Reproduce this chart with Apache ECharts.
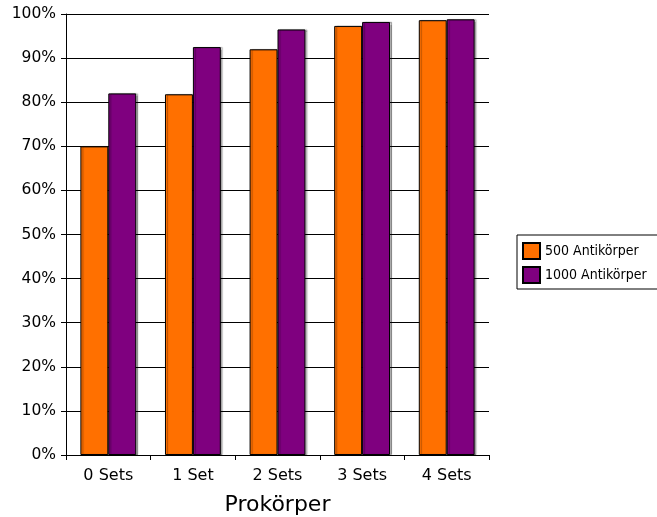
<!DOCTYPE html>
<html>
<head>
<meta charset="utf-8">
<script src="https://cdn.jsdelivr.net/npm/echarts@6/dist/echarts.min.js"></script>
<style>
html, body { margin: 0; padding: 0; background: #fff; }
#chart { width: 657px; height: 517px; }
</style>
</head>
<body>
<div id="chart"></div>
<script>
// Kategorien und Werte (in Prozent)
var categories = ['0 Sets', '1 Set', '2 Sets', '3 Sets', '4 Sets'];
var seriesNames = ['500 Antikörper', '1000 Antikörper'];
var values500 = [70, 81.8, 92.0, 97.3, 98.6];
var values1000 = [82, 92.5, 96.5, 98.2, 98.8];
var colors = ['#ff7000', '#7f007f'];

var chart = echarts.init(document.getElementById('chart'));
var fontFamily = 'DejaVu Sans';

function makeSeries(name, data, color) {
    return {
        name: name,
        type: 'bar',
        data: data,
        barGap: '0%',
        barCategoryGap: '34%',
        itemStyle: {
            color: color,
            borderColor: '#000',
            borderWidth: 1,
            shadowColor: 'rgba(0,0,0,0.3)',
            shadowOffsetX: 2,
            shadowOffsetY: 0,
            shadowBlur: 1
        },
        emphasis: { disabled: true }
    };
}

var option = {
    animation: false,
    textStyle: { fontFamily: fontFamily },
    grid: { left: 66, right: 168, top: 14, bottom: 62, containLabel: false, outerBoundsMode: 'none' },
    legend: {
        orient: 'vertical',
        left: 517,
        top: 235,
        data: seriesNames,
        icon: 'rect',
        itemWidth: 17,
        itemHeight: 16,
        itemGap: 6,
        borderColor: '#000',
        borderWidth: 1,
        padding: [7, 12, 5, 5],
        textStyle: { fontFamily: 'DejaVu Sans Condensed, DejaVu Sans', fontSize: 14, color: '#000' }
    },
    xAxis: {
        type: 'category',
        data: categories,
        name: 'Prokörper',
        nameLocation: 'middle',
        nameGap: 39,
        nameTextStyle: { fontFamily: fontFamily, fontSize: 22, color: '#000' },
        axisLine: { lineStyle: { color: '#000', width: 1 } },
        axisTick: { show: true, alignWithLabel: false, length: 5, lineStyle: { color: '#000' } },
        axisLabel: { fontFamily: fontFamily, fontSize: 16, color: '#000', margin: 13 }
    },
    yAxis: {
        type: 'value',
        min: 0,
        max: 100,
        interval: 10,
        axisLine: { show: true, lineStyle: { color: '#000', width: 1 } },
        axisTick: { show: true, length: 5, lineStyle: { color: '#000' } },
        axisLabel: { formatter: '{value}%', fontFamily: fontFamily, fontSize: 15.5, color: '#000', margin: 10 },
        splitLine: { lineStyle: { color: '#000', width: 1 } }
    },
    series: [
        makeSeries(seriesNames[0], values500, colors[0]),
        makeSeries(seriesNames[1], values1000, colors[1])
    ]
};

chart.setOption(option);
</script>
</body>
</html>
